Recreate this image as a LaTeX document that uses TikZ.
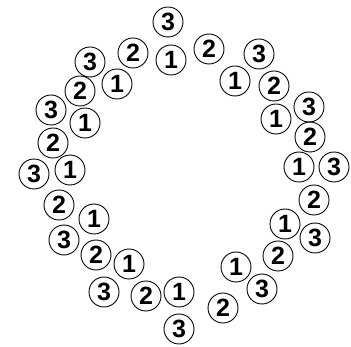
\documentclass[tikz,border=0pt]{standalone}
\usepackage{fontspec}
\setmainfont{Liberation Sans}
\usepackage{tikz}

\begin{document}
\begin{tikzpicture}[
  x=1pt,y=-1pt,
  ball/.style={circle,draw=black,line width=0.9pt,minimum size=30pt,
               inner sep=0pt,font=\fontsize{25}{25}\selectfont\bfseries}
]
  \useasboundingbox (0,0) rectangle (351,347);

  % top
  \node[ball] (c1) at (168,22) {3};
  \node[ball] (c2) at (133,53) {2};
  \node[ball] (c3) at (171,60) {1};
  \node[ball] (c4) at (209,49) {2};
  % right side
  \node[ball] (c5) at (259,54) {3};
  \node[ball] (c6) at (235,81) {1};
  \node[ball] (c7) at (274,86) {2};
  \node[ball] (c8) at (309,107) {3};
  \node[ball] (c9) at (276,119) {1};
  \node[ball] (c10) at (310,137) {2};
  \node[ball] (c11) at (299,167) {1};
  \node[ball] (c12) at (334,167) {3};
  \node[ball] (c13) at (314,200) {2};
  \node[ball] (c14) at (285,224) {1};
  \node[ball] (c15) at (315,238) {3};
  \node[ball] (c16) at (278,256) {2};
  \node[ball] (c17) at (236,267) {1};
  \node[ball] (c18) at (262,289) {3};
  \node[ball] (c19) at (223,308) {2};
  % bottom
  \node[ball] (c20) at (179,292) {1};
  \node[ball] (c21) at (179,329) {3};
  \node[ball] (c22) at (146,296) {2};
  % left side
  \node[ball] (c23) at (104,292) {3};
  \node[ball] (c24) at (129,264) {1};
  \node[ball] (c25) at (96,255) {2};
  \node[ball] (c26) at (64,240) {3};
  \node[ball] (c27) at (94,219) {1};
  \node[ball] (c28) at (59,205) {2};
  \node[ball] (c29) at (34,174) {3};
  \node[ball] (c30) at (70,170) {1};
  \node[ball] (c31) at (53,143) {2};
  \node[ball] (c32) at (85,123) {1};
  \node[ball] (c33) at (51,110) {3};
  \node[ball] (c34) at (80,91) {2};
  \node[ball] (c35) at (90,62) {3};
  \node[ball] (c36) at (117,84) {1};
\end{tikzpicture}
\end{document}
